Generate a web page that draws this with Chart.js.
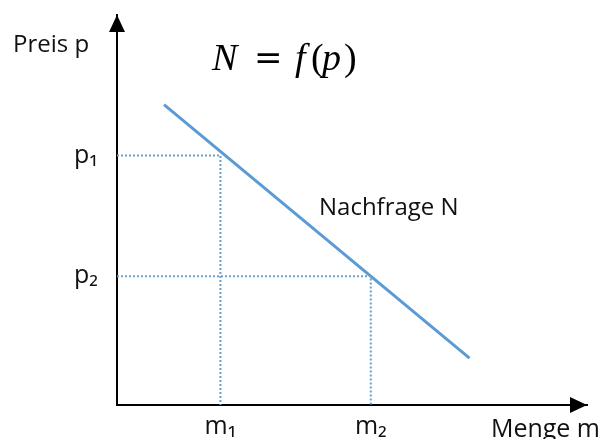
<!DOCTYPE html>
<html>
<head>
<meta charset="utf-8">
<script src="https://cdn.jsdelivr.net/npm/chart.js@4"></script>
<style>
  html, body { margin: 0; padding: 0; background: #fff; }
  #chart { display: block; }
</style>
</head>
<body>
<canvas id="chart" width="604" height="439"></canvas>
<script>
// demand curve N = f(p), two marked points
var demandM = [1.0, 7.5];
var demandP = [7.7, 1.2];
var markM = [2.2, 5.4];
var markP = [6.4, 3.3];
var mLabels = ['m\u2081', 'm\u2082'];
var pLabels = ['p\u2081', 'p\u2082'];

var lineBlue = '#5b9bd5';
var dotBlue = '#6f9fc8';
var font = '"Open Sans", "Noto Sans", sans-serif';

function guide(i) {
    return [
        {x: 0, y: markP[i]},
        {x: markM[i], y: markP[i]},
        {x: markM[i], y: 0}
    ];
}

var datasets = [0, 1].map(function (i) {
    return {
        data: guide(i),
        showLine: true,
        borderColor: dotBlue,
        borderWidth: 2,
        borderDash: [2, 2],
        pointRadius: 0,
        fill: false
    };
});
datasets.push({
    data: demandM.map(function (m, i) { return {x: m, y: demandP[i]}; }),
    showLine: true,
    borderColor: lineBlue,
    borderWidth: 3,
    pointRadius: 0,
    fill: false
});

var decorations = {
    id: 'decorations',
    afterDraw: function (chart) {
        var ctx = chart.ctx;
        var a = chart.chartArea;
        ctx.save();
        ctx.fillStyle = '#000';

        // arrow heads
        ctx.beginPath();
        ctx.moveTo(a.left, a.top);
        ctx.lineTo(a.left - 8, a.top + 17);
        ctx.lineTo(a.left + 8, a.top + 17);
        ctx.closePath();
        ctx.fill();
        ctx.beginPath();
        ctx.moveTo(a.right, a.bottom);
        ctx.lineTo(a.right - 17, a.bottom - 8);
        ctx.lineTo(a.right - 17, a.bottom + 8);
        ctx.closePath();
        ctx.fill();

        // axis titles and curve label
        ctx.fillStyle = '#111';
        ctx.textBaseline = 'alphabetic';
        ctx.textAlign = 'left';
        ctx.font = '24px ' + font;
        ctx.fillText('Preis p', 13, 52);
        ctx.fillText('Nachfrage N', 319, 215);
        ctx.textAlign = 'right';
        ctx.font = '25px ' + font;
        ctx.fillText('Menge m', 600, 437);

        // formula N = f(p)
        ctx.textAlign = 'left';
        ctx.fillStyle = '#000';
        var base = 70;
        ctx.font = 'italic 38px "Liberation Serif", serif';
        ctx.fillText('N', 212, base);
        ctx.fillText('f', 295, base);
        ctx.fillText('p', 322, base);
        ctx.font = '34px "DejaVu Serif", serif';
        ctx.fillText('=', 254, base - 1);
        ctx.font = '38px "Liberation Serif", serif';
        ctx.fillText('(', 311, base);
        ctx.fillText(')', 344, base);
        ctx.restore();
    }
};

var chart = new Chart(document.getElementById('chart').getContext('2d'), {
    type: 'scatter',
    data: {datasets: datasets},
    options: {
        responsive: false,
        animation: false,
        devicePixelRatio: 1,
        layout: {padding: {top: 15, right: 17, left: 0, bottom: 0}},
        plugins: {
            legend: {display: false},
            tooltip: {enabled: false}
        },
        scales: {
            x: {
                type: 'linear',
                min: 0,
                max: 10,
                grid: {display: false, drawTicks: false},
                border: {display: true, color: '#000', width: 2},
                afterFit: function (s) {
                    s.height = 34;
                    s.paddingLeft = 0;
                    s.paddingRight = 0;
                },
                afterBuildTicks: function (s) {
                    s.ticks = markM.map(function (v) { return {value: v}; });
                },
                ticks: {
                    autoSkip: false,
                    maxRotation: 0,
                    padding: 7,
                    color: '#111',
                    font: {family: font, size: 25},
                    callback: function (v, i) { return mLabels[i]; }
                }
            },
            y: {
                type: 'linear',
                min: 0,
                max: 10,
                grid: {display: false, drawTicks: false},
                border: {display: true, color: '#000', width: 2},
                afterFit: function (s) {
                    s.width = 117;
                    s.paddingTop = 0;
                    s.paddingBottom = 0;
                },
                afterBuildTicks: function (s) {
                    s.ticks = markP.map(function (v) { return {value: v}; });
                },
                ticks: {
                    autoSkip: false,
                    padding: 19,
                    color: '#111',
                    font: {family: font, size: 25},
                    callback: function (v, i) { return pLabels[i]; }
                }
            }
        }
    },
    plugins: [decorations]
});
</script>
</body>
</html>
